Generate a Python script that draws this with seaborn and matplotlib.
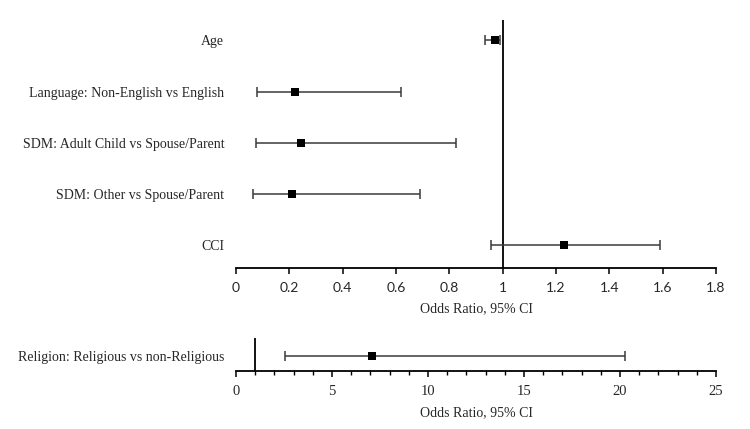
import numpy as np
import pandas as pd
import matplotlib
matplotlib.use("Agg")
import matplotlib.pyplot as plt
from matplotlib.ticker import MultipleLocator
import seaborn as sns

# ---- data ----
top_labels = ["Age", "Language: Non-English vs English", "SDM: Adult Child vs Spouse/Parent",
              "SDM: Other vs Spouse/Parent", "CCI"]
top_or = [0.97, 0.22, 0.245, 0.21, 1.23]
top_lo = [0.935, 0.08, 0.075, 0.065, 0.955]
top_hi = [0.99, 0.62, 0.825, 0.69, 1.59]

bot_labels = ["Religion: Religious vs non-Religious"]
bot_or = [7.1]
bot_lo = [2.55]
bot_hi = [20.25]

top_ticks = [0, 0.2, 0.4, 0.6, 0.8, 1, 1.2, 1.4, 1.6, 1.8]
bot_ticks = [0, 5, 10, 15, 20, 25]
xlabel = "Odds Ratio, 95% CI"

sns.set_theme(style="white")
serif = ["Liberation Serif", "DejaVu Serif"]
plt.rcParams["font.family"] = serif

fig = plt.figure(figsize=(7.5, 4.29), dpi=100)
W, H = 750, 429


def make_axes(l, r, top, bottom):
    return fig.add_axes([l / W, 1 - bottom / H, (r - l) / W, (bottom - top) / H])


def draw(ax, labels, orv, lo, hi, ticks, ylim, tick_font, tick_size, labelpad, minor=None):
    df = pd.DataFrame({"label": labels, "or": orv, "lo": lo, "hi": hi})
    ypos = np.arange(len(df))
    ax.axvline(1, color="black", lw=1.3, zorder=1)
    ax.errorbar(df["or"], ypos, xerr=[df["or"] - df["lo"], df["hi"] - df["or"]],
                fmt="none", ecolor="#3a3a3a", elinewidth=1.1, capsize=3.5, capthick=1.1, zorder=2)
    sns.scatterplot(x=df["or"], y=ypos, marker="s", s=40, color="black",
                    edgecolor="black", linewidth=0, ax=ax, zorder=3, legend=False)
    ax.set_yticks(ypos)
    ax.set_yticklabels(df["label"], fontsize=10, family=serif)
    ax.set_ylim(*ylim)
    ax.set_xlim(ticks[0], ticks[-1])
    ax.set_xticks(ticks)
    ax.set_xticklabels([f"{t:g}" for t in ticks], fontsize=tick_size, family=tick_font)
    if minor:
        ax.xaxis.set_minor_locator(MultipleLocator(minor))
    for s in ["top", "right", "left"]:
        ax.spines[s].set_visible(False)
    ax.spines["bottom"].set_color("black")
    ax.spines["bottom"].set_linewidth(1.3)
    ax.tick_params(axis="x", which="major", direction="out", length=4, width=1.1,
                   color="black", bottom=True, pad=6)
    ax.tick_params(axis="x", which="minor", direction="out", length=3, width=1.0,
                   color="black", bottom=True)
    ax.tick_params(axis="y", length=0, pad=8.5)
    ax.set_xlabel(xlabel, fontsize=10, family=serif, labelpad=labelpad)
    ax.set_ylabel("")
    ax.grid(False)


ax1 = make_axes(236, 716, 20, 268)
draw(ax1, top_labels, top_or, top_lo, top_hi, top_ticks, (4.45, -0.4),
     ["Lato", "DejaVu Sans"], 10, 6)

ax2 = make_axes(236, 716, 338, 371)
draw(ax2, bot_labels, bot_or, bot_lo, bot_hi, bot_ticks, (0.5, -0.6), serif, 10.5, 6, minor=1)

fig.savefig("out.png", dpi=100)
